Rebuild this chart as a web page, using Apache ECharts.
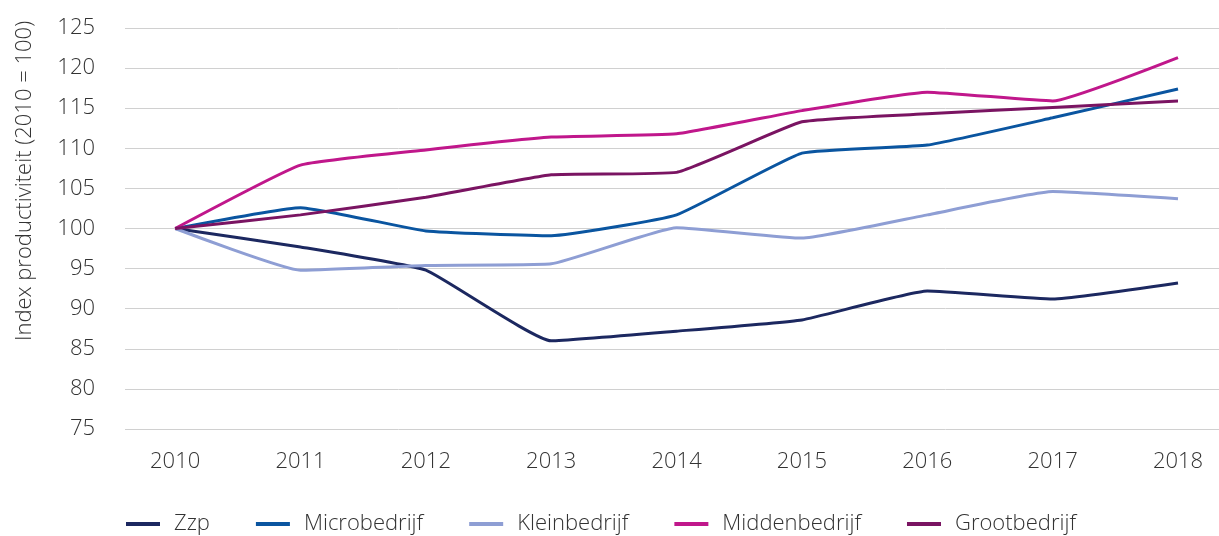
<!DOCTYPE html>
<html>
<head>
<meta charset="utf-8">
<script src="https://cdn.jsdelivr.net/npm/echarts@6/dist/echarts.min.js"></script>
<style>
	html, body { margin: 0; padding: 0; background: #fff; }
	#chart { width: 1219px; height: 536px; }
</style>
</head>
<body>
<div id="chart"></div>
<script>
	'use strict';

	var years = [2010, 2011, 2012, 2013, 2014, 2015, 2016, 2017, 2018];
	var zzp = [100, 97.7, 94.8, 86.0, 87.2, 88.6, 92.2, 91.2, 93.2];
	var micro = [100, 102.6, 99.7, 99.1, 101.7, 109.4, 110.4, 113.8, 117.4];
	var klein = [100, 94.8, 95.4, 95.6, 100.1, 98.8, 101.7, 104.6, 103.7];
	var midden = [100, 107.9, 109.8, 111.4, 111.8, 114.7, 117.0, 115.9, 121.3];
	var groot = [100, 101.7, 103.9, 106.7, 107.0, 113.3, 114.3, 115.1, 115.9];
	var yTicks = [75, 80, 85, 90, 95, 100, 105, 110, 115, 120, 125];

	var font = "'Open Sans', 'Noto Sans', sans-serif";
	var textColor = '#333';

	function pairs(vals) {
		return years.map(function(y, i) { return [y, vals[i]]; });
	}

	function line(name, vals, color) {
		return {
			name: name,
			type: 'line',
			smooth: 0.12,
			symbol: 'none',
			lineStyle: { width: 3, color: color },
			itemStyle: { color: color },
			data: pairs(vals)
		};
	}

	var chart = echarts.init(document.getElementById('chart'));

	var option = {
		animation: false,
		grid: {
			top: 28,
			bottom: 107,
			left: 125,
			right: 0
		},
		legend: {
			left: 121,
			top: 508,
			itemWidth: 34,
			itemHeight: 4,
			itemGap: 46,
			icon: 'rect',
			textStyle: {
				fontFamily: font,
				fontWeight: 300,
				fontSize: 22,
				color: textColor,
				padding: [0, 0, 0, 9]
			},
			data: ['Zzp', 'Microbedrijf', 'Kleinbedrijf', 'Middenbedrijf', 'Grootbedrijf']
		},
		xAxis: {
			type: 'value',
			min: 2009.6,
			max: 2018.327,
			splitLine: { show: false },
			axisLine: { show: false },
			axisTick: { show: false },
			axisLabel: {
				customValues: years,
				margin: 22,
				fontFamily: font,
				fontWeight: 300,
				fontSize: 22,
				color: textColor,
				formatter: function(v) { return String(v); }
			}
		},
		yAxis: {
			type: 'value',
			min: yTicks[0],
			max: yTicks[yTicks.length - 1],
			interval: 5,
			axisLine: { show: false },
			axisTick: { show: false },
			splitLine: { lineStyle: { color: '#d0d0d0', width: 1 } },
			axisLabel: {
				margin: 30,
				fontFamily: font,
				fontWeight: 300,
				fontSize: 22,
				color: textColor
			}
		},
		graphic: [{
			type: 'text',
			x: 25,
			y: 181,
			rotation: Math.PI / 2,
			style: {
				text: 'Index productiviteit (2010 = 100)',
				fontFamily: font,
				fontWeight: 300,
				fontSize: 22,
				fill: textColor,
				align: 'center',
				verticalAlign: 'middle'
			}
		}],
		series: [
			line('Zzp', zzp, '#1c2860'),
			line('Microbedrijf', micro, '#0a55a0'),
			line('Kleinbedrijf', klein, '#8e9ed4'),
			line('Middenbedrijf', midden, '#c0178b'),
			line('Grootbedrijf', groot, '#7a1462')
		]
	};
	chart.setOption(option);
</script>
</body>
</html>
